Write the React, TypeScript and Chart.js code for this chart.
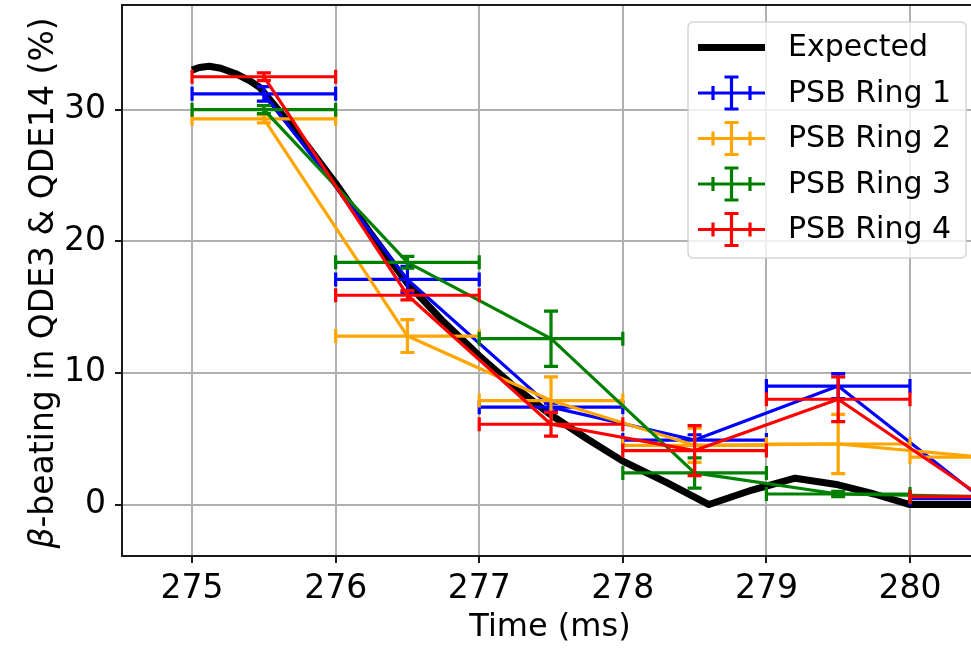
import { useEffect, useRef } from 'react';
import { Chart, registerables } from 'chart.js';

Chart.register(...registerables);

// ---- data ----
const timeBins = [275.5, 276.5, 277.5, 278.5, 279.5, 280.5];
const timeHalfWidth = [0.5, 0.5, 0.5, 0.5, 0.5, 0.5];

const expectedTime = [275.0, 275.05, 275.12, 275.2, 275.3, 275.4, 275.47, 275.6, 275.8, 276.0, 276.25, 276.5, 276.75, 277.0, 277.25, 277.5, 277.75, 278.0, 278.3, 278.6, 278.9, 279.2, 279.5, 279.75, 280.0, 280.5];
const expectedBeating = [33.0, 33.2, 33.3, 33.15, 32.75, 32.2, 31.7, 30.0, 27.3, 24.4, 20.5, 16.8, 13.9, 11.3, 8.9, 6.8, 5.0, 3.3, 1.7, 0.0, 1.1, 2.0, 1.5, 0.8, 0.0, 0.0];

const ring1 = [31.2, 17.1, 7.4, 4.9, 9.0, 0.45];
const ring1Err = [0.55, 1.0, 0.3, 0.4, 0.95, 0.4];
const ring2 = [29.3, 12.8, 7.9, 4.5, 4.6, 3.6];
const ring2Err = [0.3, 1.25, 1.8, 1.3, 2.25, 0.5];
const ring3 = [30.0, 18.4, 12.6, 2.4, 0.8, 0.6];
const ring3Err = [0.3, 0.45, 2.1, 1.15, 0.2, 0.5];
const ring4 = [32.5, 15.9, 6.1, 4.1, 8.0, 0.6];
const ring4Err = [0.3, 0.35, 0.9, 1.9, 1.7, 0.4];

const seriesLabels = ['Expected', 'PSB Ring 1', 'PSB Ring 2', 'PSB Ring 3', 'PSB Ring 4'];
const seriesColors = ['#000000', '#0000ff', '#ffa500', '#008000', '#ff0000'];

const xTickValues = [275, 276, 277, 278, 279, 280];
const yTickValues = [0, 10, 20, 30];
const xRange = [274.512, 280.425];
const yRange = [-3.91, 37.95];

const xTitle = 'Time (ms)';
const yTitleSymbol = 'β';
const yTitleRest = '-beating in QDE3 & QDE14 (%)';

const FONT = "'DejaVu Sans', sans-serif";
const LINE_W = 3.2;
const CAP = 7;

const errorBarPlugin = {
  id: 'errorBars',
  afterDatasetDraw(chart: any, args: any) {
    const ds = chart.data.datasets[args.index];
    if (!ds.errX) return;
    const { ctx, chartArea } = chart;
    const xs = chart.scales.x;
    const ys = chart.scales.y;
    ctx.save();
    ctx.beginPath();
    ctx.rect(chartArea.left, chartArea.top, chartArea.right - chartArea.left, chartArea.bottom - chartArea.top);
    ctx.clip();
    ctx.strokeStyle = ds.borderColor;
    ctx.lineWidth = LINE_W;
    ctx.lineCap = 'butt';
    ds.data.forEach((p: any, i: number) => {
      const px = xs.getPixelForValue(p.x);
      const py = ys.getPixelForValue(p.y);
      const x0 = xs.getPixelForValue(p.x - ds.errX[i]);
      const x1 = xs.getPixelForValue(p.x + ds.errX[i]);
      const y0 = ys.getPixelForValue(p.y - ds.errY[i]);
      const y1 = ys.getPixelForValue(p.y + ds.errY[i]);
      ctx.beginPath();
      ctx.moveTo(x0, py); ctx.lineTo(x1, py);
      ctx.moveTo(px, y0); ctx.lineTo(px, y1);
      ctx.moveTo(x0, py - CAP); ctx.lineTo(x0, py + CAP);
      ctx.moveTo(x1, py - CAP); ctx.lineTo(x1, py + CAP);
      ctx.moveTo(px - CAP, y0); ctx.lineTo(px + CAP, y0);
      ctx.moveTo(px - CAP, y1); ctx.lineTo(px + CAP, y1);
      ctx.stroke();
    });
    ctx.restore();
  },
};

const decorPlugin = {
  id: 'decor',
  afterDraw(chart: any) {
    const { ctx, chartArea } = chart;
    ctx.save();
    // frame
    ctx.strokeStyle = '#1a1a1a';
    ctx.lineWidth = 2;
    ctx.beginPath();
    ctx.moveTo(chartArea.left, chartArea.bottom);
    ctx.lineTo(chartArea.left, chartArea.top);
    ctx.lineTo(chartArea.right + 2, chartArea.top);
    ctx.moveTo(chartArea.left, chartArea.bottom);
    ctx.lineTo(chartArea.right + 2, chartArea.bottom);
    ctx.stroke();

    // x title
    ctx.fillStyle = '#000';
    ctx.font = `32px ${FONT}`;
    ctx.textAlign = 'center';
    ctx.textBaseline = 'alphabetic';
    ctx.fillText(xTitle, 550, 636);

    // y title (rotated)
    ctx.save();
    ctx.translate(53, 283);
    ctx.rotate(-Math.PI / 2);
    ctx.font = `italic 33px ${FONT}`;
    const w1 = ctx.measureText(yTitleSymbol).width;
    ctx.font = `33px ${FONT}`;
    const w2 = ctx.measureText(yTitleRest).width;
    const start = -(w1 + w2) / 2;
    ctx.textAlign = 'left';
    ctx.font = `italic 33px ${FONT}`;
    ctx.fillText(yTitleSymbol, start, 0);
    ctx.font = `33px ${FONT}`;
    ctx.fillText(yTitleRest, start + w1, 0);
    ctx.restore();

    // legend
    const bx = 688, by = 22, bw = 278, bh = 236, r = 5;
    ctx.beginPath();
    ctx.moveTo(bx + r, by);
    ctx.lineTo(bx + bw - r, by);
    ctx.arcTo(bx + bw, by, bx + bw, by + r, r);
    ctx.lineTo(bx + bw, by + bh - r);
    ctx.arcTo(bx + bw, by + bh, bx + bw - r, by + bh, r);
    ctx.lineTo(bx + r, by + bh);
    ctx.arcTo(bx, by + bh, bx, by + bh - r, r);
    ctx.lineTo(bx, by + r);
    ctx.arcTo(bx, by, bx + r, by, r);
    ctx.closePath();
    ctx.fillStyle = 'rgba(255,255,255,0.8)';
    ctx.fill();
    ctx.strokeStyle = 'rgba(204,204,204,0.8)';
    ctx.lineWidth = 1.5;
    ctx.stroke();

    const hx0 = 698, hx1 = 765, hc = 731.5;
    chart.data.datasets.forEach((ds: any, i: number) => {
      const yy = 47.5 + i * 45.5;
      ctx.strokeStyle = ds.borderColor;
      ctx.lineCap = 'butt';
      if (!ds.errX) {
        ctx.lineWidth = ds.borderWidth;
        ctx.beginPath();
        ctx.moveTo(hx0, yy); ctx.lineTo(hx1, yy);
        ctx.stroke();
      } else {
        ctx.lineWidth = LINE_W;
        ctx.beginPath();
        ctx.moveTo(hx0, yy); ctx.lineTo(hx1, yy);
        ctx.moveTo(hc, yy - 16); ctx.lineTo(hc, yy + 16);
        ctx.moveTo(hc - CAP, yy - 16); ctx.lineTo(hc + CAP, yy - 16);
        ctx.moveTo(hc - CAP, yy + 16); ctx.lineTo(hc + CAP, yy + 16);
        ctx.moveTo(hc - 18.5, yy - CAP); ctx.lineTo(hc - 18.5, yy + CAP);
        ctx.moveTo(hc + 18.5, yy - CAP); ctx.lineTo(hc + 18.5, yy + CAP);
        ctx.stroke();
      }
      ctx.fillStyle = '#000';
      ctx.font = `30px ${FONT}`;
      ctx.textAlign = 'left';
      ctx.textBaseline = 'middle';
      ctx.fillText(ds.label, 788, yy + 1);
    });
    ctx.restore();
  },
};

function ringDataset(idx: number, values: number[], errs: number[], order: number) {
  return {
    label: seriesLabels[idx],
    data: timeBins.map((t, i) => ({ x: t, y: values[i] })),
    errX: timeHalfWidth,
    errY: errs,
    borderColor: seriesColors[idx],
    backgroundColor: seriesColors[idx],
    borderWidth: LINE_W,
    borderJoinStyle: 'round',
    pointRadius: 0,
    tension: 0,
    order,
  };
}

export default function App() {
  const ref = useRef<HTMLCanvasElement | null>(null);
  useEffect(() => {
    if (!ref.current) return;
    const chart = new Chart(ref.current, {
      type: 'line',
      data: {
        datasets: [
          {
            label: seriesLabels[0],
            data: expectedTime.map((t, i) => ({ x: t, y: expectedBeating[i] })),
            borderColor: seriesColors[0],
            backgroundColor: seriesColors[0],
            borderWidth: 7,
            borderJoinStyle: 'round',
            pointRadius: 0,
            tension: 0,
            order: 5,
          } as any,
          ringDataset(1, ring1, ring1Err, 4) as any,
          ringDataset(2, ring2, ring2Err, 3) as any,
          ringDataset(3, ring3, ring3Err, 2) as any,
          ringDataset(4, ring4, ring4Err, 1) as any,
        ],
      },
      options: {
        responsive: false,
        animation: false,
        devicePixelRatio: 1,
        layout: { padding: { top: 5, left: 0, right: 0, bottom: 0 } },
        plugins: { legend: { display: false }, tooltip: { enabled: false } },
        scales: {
          x: {
            type: 'linear',
            min: xRange[0],
            max: xRange[1],
            afterBuildTicks: (s: any) => { s.ticks = xTickValues.map((v) => ({ value: v })); },
            afterFit: (s: any) => { s.height = 92; s.paddingLeft = 0; s.paddingRight = 0; },
            grid: { color: '#b0b0b0', lineWidth: 2, tickLength: 7, tickColor: '#1a1a1a', tickWidth: 2 },
            border: { color: '#1a1a1a', width: 2 },
            ticks: { font: { family: FONT, size: 33 }, color: '#000', padding: 7, maxRotation: 0, autoSkip: false, callback: (v: any) => String(v) },
          },
          y: {
            type: 'linear',
            min: yRange[0],
            max: yRange[1],
            afterBuildTicks: (s: any) => { s.ticks = yTickValues.map((v) => ({ value: v })); },
            afterFit: (s: any) => { s.width = 122; s.paddingTop = 0; s.paddingBottom = 0; },
            grid: { color: '#b0b0b0', lineWidth: 2, tickLength: 7, tickColor: '#1a1a1a', tickWidth: 2 },
            border: { color: '#1a1a1a', width: 2 },
            ticks: { font: { family: FONT, size: 33 }, color: '#000', padding: 9, callback: (v: any) => String(v) },
          },
        },
      } as any,
      plugins: [errorBarPlugin, decorPlugin],
    });
    return () => chart.destroy();
  }, []);
  return (
    <div style={{ position: 'fixed', left: 0, top: 0, width: 971, height: 648, background: '#fff' }}>
      <canvas ref={ref} width={971} height={648} style={{ display: 'block', width: 971, height: 648 }} />
    </div>
  );
}
